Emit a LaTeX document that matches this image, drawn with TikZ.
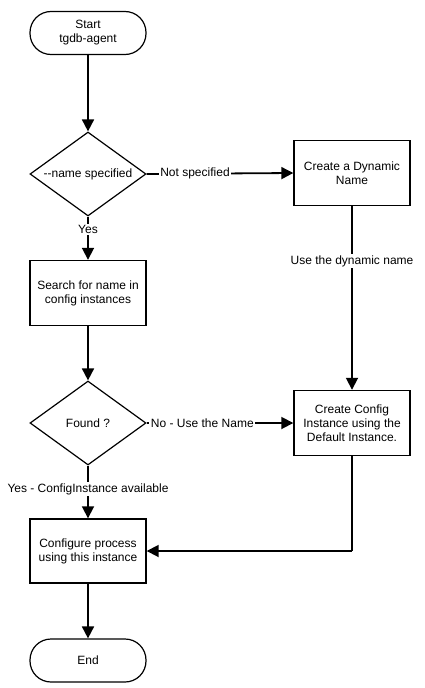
\documentclass[tikz,border=0pt]{standalone}
\usepackage{fontspec}
\setmainfont{Liberation Sans}
\usetikzlibrary{shapes.geometric,arrows.meta}
\begin{document}
\begin{tikzpicture}[x=1pt,y=-1pt,
  every node/.style={font=\fontsize{12}{14}\selectfont, align=center, inner sep=0pt},
  procbox/.style={draw, line width=1.4pt, minimum width=116pt, minimum height=65pt},
  termbox/.style={draw, line width=1.2pt, rounded corners=21pt, minimum width=116pt, minimum height=43pt},
  decbox/.style={draw, diamond, line width=1.2pt, minimum width=116pt, minimum height=84pt},
  conn/.style={line width=1.8pt, -{Triangle[width=12pt,length=12pt]}},
  elabel/.style={fill=white, inner sep=1.5pt}]
\useasboundingbox (0,0) rectangle (425,688);
\node[termbox] (start) at (88,33) {Start\\tgdb-agent};
\node[decbox] (d1) at (88,174) {\makebox[0pt][c]{-\kern0pt-name specified}};
\node[procbox] (dyn) at (352,173) {Create a Dynamic\\Name};
\node[procbox] (search) at (88,293) {Search for name in\\config instances};
\node[decbox] (found) at (88,423) {\makebox[0pt][c]{Found ?}};
\node[procbox] (cfg) at (352,423) {Create Config\\Instance using the\\Default Instance.};
\node[procbox, minimum height=64pt] (conf) at (88,551) {Configure process\\using this instance};
\node[termbox] (end) at (88,660.5) {End};
\coordinate (corner) at (cfg.south |- conf.east);

\draw[conn] (start) -- (d1);
\draw[conn] (d1.east) -- node[elabel, pos=0.33] {Not specified} (dyn.west);
\draw[conn] (d1) -- node[elabel, pos=0.3] {Yes} (search);
\draw[conn] (dyn) -- node[elabel, pos=0.3] {Use the dynamic name} (cfg);
\draw[conn] (search) -- (found);
\draw[conn] (found.east) -- node[elabel, pos=0.38] {No - Use the Name} (cfg.west);
\draw[conn] (found) -- node[elabel, pos=0.45] {Yes - ConfigInstance available} (conf);
\draw[line width=1.8pt] (cfg.south) -- (corner);
\draw[conn] (corner) -- (conf.east);
\draw[conn] (conf) -- (end);
\end{tikzpicture}
\end{document}
